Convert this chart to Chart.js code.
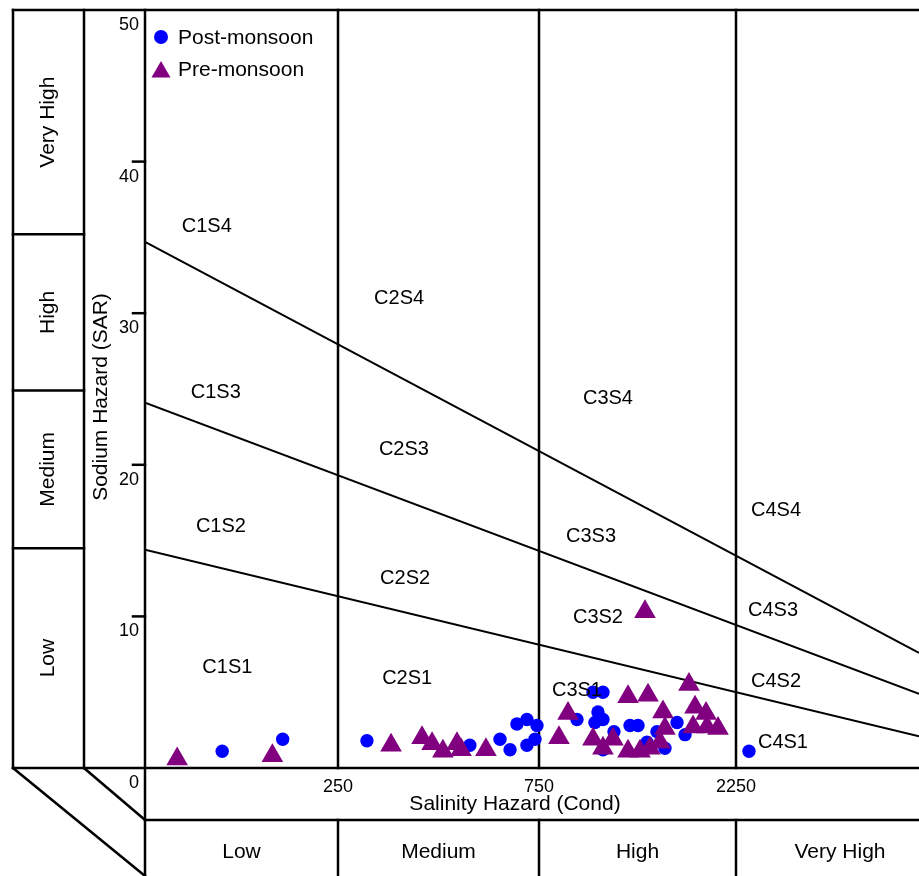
<!DOCTYPE html>
<html><head><meta charset="utf-8">
<script src="https://cdn.jsdelivr.net/npm/chart.js@4.4.1/dist/chart.umd.min.js"></script>
<style>html,body{margin:0;padding:0;background:#fff;}canvas{display:block;}</style>
</head><body>
<canvas id="c" width="919" height="876"></canvas>
<script>
// ---- data ----
const postMonsoonCond = [160, 207, 322, 578, 653, 678, 695, 720, 745, 720, 740, 1039, 1161, 1237, 1199, 1237, 1176, 1237, 1321, 1443, 1504, 1572, 1648, 1709, 1801, 1862, 2445];
const postMonsoonSAR  = [1.1, 1.9, 1.8, 1.5, 1.9, 1.2, 2.9, 3.2, 2.8, 1.5, 1.9, 3.2, 5.0, 5.0, 3.7, 3.2, 3.0, 1.2, 2.4, 2.8, 2.8, 1.7, 2.4, 1.3, 3.0, 2.2, 1.1];
const preMonsoonCond  = [125, 199, 382, 459, 484, 511, 546, 556, 618, 902, 971, 1161, 1313, 1237, 1428, 1580, 1557, 1892, 1694, 1709, 1938, 2022, 1923, 2113, 2029, 1428, 1519, 1595, 1671];
const preMonsoonSAR   = [0.6, 0.8, 1.5, 2.0, 1.6, 1.1, 1.6, 1.2, 1.2, 2.0, 3.6, 1.9, 1.9, 1.3, 4.7, 4.8, 10.3, 5.5, 3.7, 2.6, 4.0, 3.6, 2.7, 2.6, 2.7, 1.1, 1.1, 1.3, 1.7];

const boundaryCond = [100, 5000];
const boundaryS4S3 = [34.7, 7.6];
const boundaryS3S2 = [24.1, 4.9];
const boundaryS2S1 = [14.4, 2.1];

const salinityBreaks = [100, 250, 750, 2250, 5000];
const salinityTickValues = [250, 750, 2250];
const salinityTickLabels = ['250', '750', '2250'];
const salinityClasses = ['Low', 'Medium', 'High', 'Very High'];
const sarTickValues = [0, 10, 20, 30, 40, 50];
const sarTickLabels = ['0', '10', '20', '30', '40', '50'];
const sodiumClasses = ['Low', 'Medium', 'High', 'Very High'];
const sodiumClassBreaks = [0, 14.5, 24.9, 35.2, 50];

const zoneNames = ['C1S4','C2S4','C3S4','C4S4','C1S3','C2S3','C3S3','C4S3','C1S2','C2S2','C3S2','C4S2','C1S1','C2S1','C3S1','C4S1'];
const zoneCond  = [148, 402, 1275, 2851, 155, 414, 1146, 2806, 159, 417, 1199, 2851, 164, 422, 1039, 2956];
const zoneSAR   = [35.7, 31.0, 24.4, 17.0, 24.8, 21.0, 15.3, 10.4, 15.9, 12.5, 9.9, 5.7, 6.6, 5.9, 5.1, 1.7];

const seriesNames = ['Post-monsoon', 'Pre-monsoon'];

// ---- piecewise salinity scale (diagram segments) ----
const segmentFrac = [0, 193/774, 394/774, 591/774, 1];
class PiecewiseScale extends Chart.LinearScale {
  getPixelForValue(v) {
    if (v === null || v === undefined) return NaN;
    const b = salinityBreaks;
    let i = 0;
    while (i < b.length - 2 && v > b[i + 1]) i++;
    const t = (v - b[i]) / (b[i + 1] - b[i]);
    const f = segmentFrac[i] + t * (segmentFrac[i + 1] - segmentFrac[i]);
    return this.left + f * this.width;
  }
  getValueForPixel(p) {
    const f = (p - this.left) / this.width;
    const b = salinityBreaks;
    let i = 0;
    while (i < segmentFrac.length - 2 && f > segmentFrac[i + 1]) i++;
    const t = (f - segmentFrac[i]) / (segmentFrac[i + 1] - segmentFrac[i]);
    return b[i] + t * (b[i + 1] - b[i]);
  }
}
PiecewiseScale.id = 'piecewise';
PiecewiseScale.defaults = Chart.LinearScale.defaults;
Chart.register(PiecewiseScale);

const toXY = (xs, ys) => xs.map((x, i) => ({x: x, y: ys[i]}));
const FONT = '"Liberation Sans", Arial, Helvetica, sans-serif';

const framePlugin = {
  id: 'frame',
  beforeDatasetsDraw(chart) {
    const ctx = chart.ctx, xs = chart.scales.x, ys = chart.scales.y, ca = chart.chartArea;
    const outerL = 13, innerL = 84, bottomRow = 820, H = chart.height;
    ctx.save();
    ctx.strokeStyle = '#000';
    ctx.lineWidth = 2.5;
    ctx.lineCap = 'square';
    const line = (x1, y1, x2, y2) => { ctx.beginPath(); ctx.moveTo(x1, y1); ctx.lineTo(x2, y2); ctx.stroke(); };
    line(outerL, ca.top, ca.right, ca.top);
    line(outerL, ca.top, outerL, ca.bottom);
    line(innerL, ca.top, innerL, ca.bottom);
    line(ca.left, ca.top, ca.left, H);
    line(outerL, ca.bottom, ca.right, ca.bottom);
    line(ca.left, bottomRow, ca.right, bottomRow);
    line(outerL, ca.bottom, ca.left, H);
    line(innerL, ca.bottom, ca.left, bottomRow);
    sodiumClassBreaks.slice(1, -1).forEach(v => { const y = ys.getPixelForValue(v); line(outerL, y, innerL, y); });
    salinityTickValues.forEach(v => {
      const x = xs.getPixelForValue(v);
      line(x, ca.top, x, ca.bottom);
      line(x, bottomRow, x, H);
    });
    // y tick marks
    sarTickValues.forEach(v => { if (v > 0 && v < 50) { const y = ys.getPixelForValue(v); line(ca.left - 12, y, ca.left, y); } });
    ctx.restore();
  },
  afterDatasetsDraw(chart) {
    const ctx = chart.ctx, xs = chart.scales.x, ys = chart.scales.y, ca = chart.chartArea;
    ctx.save();
    ctx.fillStyle = '#000';
    // zone labels
    ctx.font = '20px ' + FONT;
    ctx.textAlign = 'center'; ctx.textBaseline = 'middle';
    zoneNames.forEach((n, i) => ctx.fillText(n, xs.getPixelForValue(zoneCond[i]), ys.getPixelForValue(zoneSAR[i])));
    // y tick labels
    ctx.font = '18px ' + FONT;
    ctx.textAlign = 'right';
    sarTickValues.forEach((v, i) => ctx.fillText(sarTickLabels[i], ca.left - 6, ys.getPixelForValue(v) + 15));
    // x tick labels
    ctx.textAlign = 'center';
    salinityTickValues.forEach((v, i) => ctx.fillText(salinityTickLabels[i], xs.getPixelForValue(v), ca.bottom + 19));
    // axis titles
    ctx.font = '21px ' + FONT;
    ctx.fillText('Salinity Hazard (Cond)', 515, ca.bottom + 36);
    ctx.save();
    ctx.translate(101, 397); ctx.rotate(-Math.PI / 2);
    ctx.fillText('Sodium Hazard (SAR)', 0, 0);
    ctx.restore();
    // salinity classes (bottom row)
    const bx = [xs.getPixelForValue(100), xs.getPixelForValue(250), xs.getPixelForValue(750), xs.getPixelForValue(2250), ca.right + 25];
    salinityClasses.forEach((n, i) => ctx.fillText(n, (bx[i] + bx[i + 1]) / 2, 852));
    // sodium classes (left column, rotated)
    sodiumClasses.forEach((n, i) => {
      const y0 = ys.getPixelForValue(sodiumClassBreaks[i]), y1 = ys.getPixelForValue(sodiumClassBreaks[i + 1]);
      ctx.save(); ctx.translate(48, (y0 + y1) / 2); ctx.rotate(-Math.PI / 2);
      ctx.fillText(n, 0, 0); ctx.restore();
    });
    // legend
    const ds = chart.data.datasets;
    const legendY = [37, 69];
    [0, 1].forEach(i => {
      const d = ds[i];
      ctx.fillStyle = d.backgroundColor;
      Chart.helpers.drawPoint(ctx, {pointStyle: d.pointStyle, radius: i === 0 ? 7 : 11, borderWidth: 0}, 161, legendY[i] + (i === 1 ? 3 : 0));
      ctx.fillStyle = '#000';
      ctx.textAlign = 'left';
      ctx.font = '21px ' + FONT;
      ctx.fillText(seriesNames[i], 178, legendY[i] + 1);
    });
    ctx.restore();
  }
};

new Chart(document.getElementById('c'), {
  type: 'scatter',
  data: {
    datasets: [
      { label: seriesNames[0], data: toXY(postMonsoonCond, postMonsoonSAR), pointStyle: 'circle', pointRadius: 6.7, pointBorderWidth: 0, backgroundColor: '#0000ff', borderColor: '#0000ff', order: 1 },
      { label: seriesNames[1], data: toXY(preMonsoonCond, preMonsoonSAR), pointStyle: 'triangle', pointRadius: 12.5, pointBorderWidth: 0, backgroundColor: '#800080', borderColor: '#800080', order: 0 },
      { label: 'S4/S3', data: toXY(boundaryCond, boundaryS4S3), showLine: true, pointRadius: 0, borderColor: '#000', borderWidth: 2, order: 2 },
      { label: 'S3/S2', data: toXY(boundaryCond, boundaryS3S2), showLine: true, pointRadius: 0, borderColor: '#000', borderWidth: 2, order: 2 },
      { label: 'S2/S1', data: toXY(boundaryCond, boundaryS2S1), showLine: true, pointRadius: 0, borderColor: '#000', borderWidth: 2, order: 2 }
    ]
  },
  options: {
    responsive: false,
    animation: false,
    layout: { autoPadding: false, padding: { left: 145, top: 10, right: 0, bottom: 108 } },
    scales: {
      x: { type: 'piecewise', min: 100, max: 5000, display: false },
      y: { type: 'linear', min: 0, max: 50, display: false }
    },
    plugins: { legend: { display: false }, tooltip: { enabled: false } },
    elements: { point: { hoverRadius: 0 } }
  },
  plugins: [framePlugin]
});
</script>
</body></html>
